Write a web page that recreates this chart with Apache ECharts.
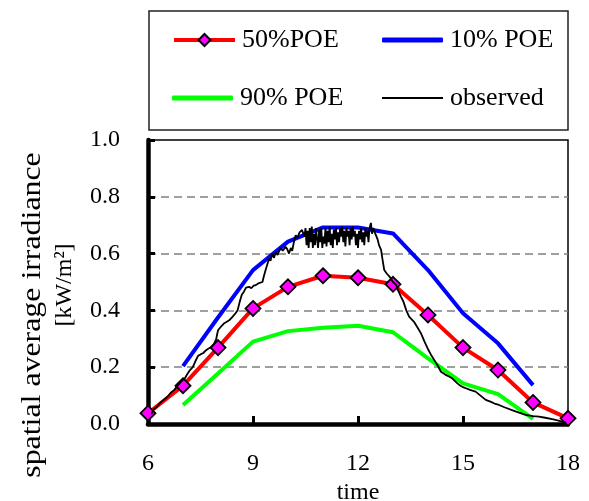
<!DOCTYPE html>
<html>
<head>
<meta charset="utf-8">
<script src="https://cdn.jsdelivr.net/npm/echarts@6/dist/echarts.min.js"></script>
<style>
html,body{margin:0;padding:0;background:#fff;}
#chart{width:589px;height:501px;}
</style>
</head>
<body>
<div id="chart"></div>
<script>
// ---- data ----
var hours50 = [6, 7, 8, 9, 10, 11, 12, 13, 14, 15, 16, 17, 18];
var poe50 = [0.038, 0.135, 0.269, 0.407, 0.483, 0.522, 0.515, 0.492, 0.384, 0.269, 0.19, 0.076, 0.02];
var hours10 = [7, 8, 9, 10, 11, 12, 13, 14, 15, 16, 17];
var poe10 = [0.204, 0.375, 0.542, 0.642, 0.692, 0.692, 0.671, 0.542, 0.39, 0.284, 0.137];
var hours90 = [7, 8, 9, 10, 11, 12, 13, 14, 15, 16, 17];
var poe90 = [0.067, 0.178, 0.29, 0.327, 0.339, 0.346, 0.323, 0.231, 0.143, 0.105, 0.018];
var obsTime = [6.10,6.15,6.25,6.35,6.45,6.55,6.65,6.75,6.85,6.95,7.05,7.12,7.2,7.28,7.35,7.43,7.5,7.58,7.66,7.72,7.8,7.88,7.95,8.0,8.05,8.1,8.18,8.25,8.32,8.42,8.5,
  8.56,8.62,8.68,8.74,8.8,8.89,8.95,9.02,9.08,9.15,9.2,9.27,9.31,9.36,9.4,9.46,9.5,9.55,9.6,9.65,9.7,9.75,9.79,9.85,9.93,9.98,10.03,10.08,10.12,10.17,10.22,10.27,10.33,10.4,10.44,
  10.47,10.5,10.53,10.56,10.59,10.62,10.65,10.68,10.71,10.74,10.77,10.8,10.83,10.86,10.89,10.92,10.95,10.98,11.01,11.04,11.07,11.1,11.13,11.16,11.19,11.22,11.25,11.28,11.31,11.34,11.37,11.4,11.43,11.46,11.49,11.52,11.55,11.58,11.61,11.64,11.67,11.7,11.73,11.76,11.79,11.82,11.85,11.88,11.91,11.94,11.97,12.0,12.03,12.06,12.09,12.12,12.15,12.18,12.21,12.24,12.27,12.3,12.33,12.37,12.4,12.44,12.48,12.52,12.56,12.6,
  12.66,12.7,12.75,12.82,12.9,13.0,13.09,13.15,13.23,13.3,13.38,13.46,13.52,13.6,13.7,13.8,13.9,13.99,14.08,14.18,14.28,14.37,14.45,14.52,14.6,14.7,14.78,14.84,14.92,14.98,15.1,15.2,15.36,15.5,15.65,15.8,15.9,16.03,16.2,16.4,16.6,16.79,17.0,17.17,17.35,17.55,17.7,17.83,17.95];
var obsValue = [0.035,0.05,0.06,0.075,0.085,0.095,0.11,0.12,0.135,0.15,0.16,0.175,0.19,0.2,0.22,0.24,0.245,0.25,0.26,0.265,0.27,0.28,0.30,0.33,0.335,0.345,0.355,0.36,0.365,0.378,0.39,
  0.40,0.43,0.455,0.466,0.48,0.483,0.478,0.487,0.489,0.495,0.49,0.50,0.52,0.542,0.535,0.583,0.575,0.60,0.585,0.605,0.595,0.61,0.619,0.61,0.624,0.615,0.60,0.62,0.61,0.642,0.665,0.655,0.675,0.683,0.69,
  0.66,0.69,0.63,0.68,0.62,0.69,0.64,0.695,0.62,0.67,0.63,0.69,0.65,0.62,0.685,0.64,0.69,0.62,0.66,0.635,0.69,0.625,0.68,0.64,0.695,0.63,0.67,0.62,0.685,0.65,0.69,0.63,0.675,0.64,0.69,0.66,0.695,0.64,0.68,0.625,0.69,0.66,0.68,0.63,0.69,0.65,0.695,0.66,0.68,0.63,0.67,0.62,0.68,0.65,0.69,0.64,0.675,0.63,0.69,0.66,0.68,0.64,0.69,0.708,0.67,0.69,0.675,0.67,0.65,0.63,
  0.613,0.58,0.542,0.53,0.519,0.5,0.49,0.47,0.448,0.43,0.40,0.378,0.37,0.36,0.34,0.319,0.29,0.266,0.245,0.225,0.205,0.184,0.178,0.172,0.167,0.16,0.15,0.143,0.135,0.131,0.125,0.12,0.114,0.1,0.085,0.078,0.072,0.067,0.058,0.049,0.04,0.032,0.028,0.026,0.022,0.017,0.013,0.008,0.005];
var xTicks = [6, 9, 12, 15, 18];
var yTicks = ['0.0', '0.2', '0.4', '0.6', '0.8', '1.0'];

function pairs(xs, ys) { return xs.map(function (x, i) { return [x, ys[i]]; }); }

var FONT = '"Liberation Serif", "Times New Roman", serif';
var chart = echarts.init(document.getElementById('chart'), null, { renderer: 'canvas' });

function legendAt(name, left, top, icon, h, lw) {
  var item = icon ? { name: name, icon: icon } : { name: name };
  return {
    data: [item], left: left, top: top, orient: 'horizontal',
    itemWidth: 61, itemHeight: h, padding: 0, selectedMode: false,
    lineStyle: { width: lw },
    textStyle: { fontFamily: FONT, fontSize: 26, color: '#000', padding: [0, 0, 0, 2] }
  };
}

chart.setOption({
  animation: false,
  backgroundColor: '#fff',
  grid: { left: 148, right: 21, top: 140, bottom: 77, outerBoundsMode: 'none', containLabel: false,
    show: true, borderColor: '#000', borderWidth: 1.5, backgroundColor: 'transparent' },
  legend: [
    legendAt('50%POE', 172, 27, null, 15, 4),
    legendAt('10% POE', 382, 27, 'roundRect', 5, 4),
    legendAt('90% POE', 172, 85, 'roundRect', 5, 4),
    legendAt('observed', 382, 85, 'rect', 2, 2)
  ],
  graphic: [
    { type: 'rect', shape: { x: 149, y: 11, width: 419, height: 119 }, style: { fill: 'none', stroke: '#222', lineWidth: 1.5 }, z: 0 },
    { type: 'text', x: 33, y: 315, rotation: Math.PI / 2, scaleX: 1.18,
      style: { text: 'spatial average irradiance', font: '27px ' + FONT, fill: '#000', align: 'center', verticalAlign: 'middle' } },
    { type: 'text', x: 65, y: 285, rotation: Math.PI / 2,
      style: { text: '[kW/m²]', font: '24px ' + FONT, fill: '#000', align: 'center', verticalAlign: 'middle' } }
  ],
  xAxis: {
    type: 'value', min: 6, max: 18, interval: 3,
    name: 'time', nameLocation: 'middle', nameGap: 55,
    nameTextStyle: { fontFamily: FONT, fontSize: 24, color: '#000' },
    axisLine: { show: true, lineStyle: { color: '#000', width: 4.5 } },
    axisTick: { show: true, inside: true, length: 8, lineStyle: { color: '#000', width: 3 } },
    axisLabel: { margin: 28, fontFamily: FONT, fontSize: 24, color: '#000',
      formatter: function (v) { return xTicks.indexOf(v) >= 0 ? String(v) : ''; } },
    splitLine: { show: false }
  },
  yAxis: {
    type: 'value', min: 0, max: 1, interval: 0.2,
    axisLine: { show: true, lineStyle: { color: '#000', width: 4.5 } },
    axisTick: { show: true, inside: true, length: 7, lineStyle: { color: '#000', width: 3 } },
    axisLabel: { margin: 28, fontFamily: FONT, fontSize: 24, color: '#000',
      formatter: function (v) { return yTicks[Math.round(v / 0.2)]; } },
    splitLine: { show: true, showMinLine: false, showMaxLine: false, lineStyle: { color: '#808080', width: 1.5, type: [8, 5] } }
  },
  series: [
    { name: '10% POE', type: 'line', data: pairs(hours10, poe10), symbol: 'none', clip: false,
      lineStyle: { color: '#0000ff', width: 4 }, itemStyle: { color: '#0000ff' }, z: 2 },
    { name: '90% POE', type: 'line', data: pairs(hours90, poe90), symbol: 'none', clip: false,
      lineStyle: { color: '#00ff00', width: 4 }, itemStyle: { color: '#00ff00' }, z: 2 },
    { name: '50%POE', type: 'line', data: pairs(hours50, poe50), symbol: 'diamond', symbolSize: 15, clip: false,
      lineStyle: { color: '#ff0000', width: 4 },
      itemStyle: { color: '#ff00ff', borderColor: '#000', borderWidth: 1.8 }, z: 3 },
    { name: 'observed', type: 'line', data: pairs(obsTime, obsValue), symbol: 'none', clip: false,
      lineStyle: { color: '#000', width: 1.8 }, itemStyle: { color: '#000' }, z: 4 }
  ]
});
</script>
</body>
</html>
